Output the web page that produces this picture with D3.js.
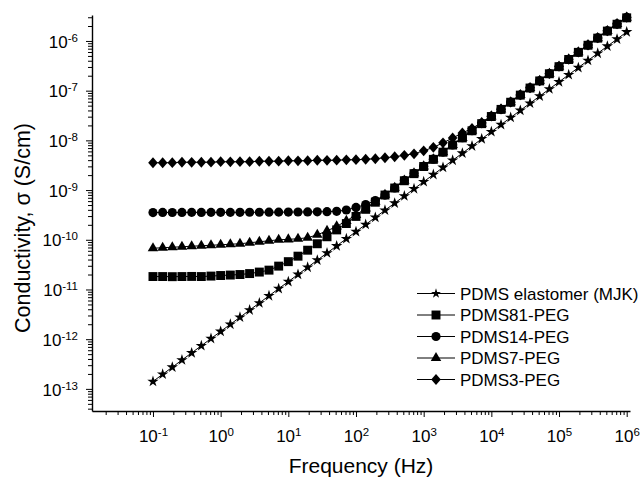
<!DOCTYPE html>
<html><head><meta charset="utf-8">
<script src="https://cdn.jsdelivr.net/npm/d3@7"></script>
<style>
body{margin:0;background:#fff}
svg{display:block}
text{font-family:"Liberation Sans",Arial,Helvetica,sans-serif;fill:#000}
</style>
</head><body>
<svg id="chart" width="644" height="478"></svg>
<script>
// ---- data ----
const freq = [0.1,0.139,0.193,0.268,0.373,0.518,0.72,
  1,1.39,1.93,2.68,3.73,5.18,7.2,
  10,13.9,19.3,26.8,37.3,51.8,72,
  100,139,193,268,373,518,720,
  1e3,1.39e3,1.93e3,2.68e3,3.73e3,5.18e3,7.2e3,
  1e4,1.39e4,1.93e4,2.68e4,3.73e4,5.18e4,7.2e4,
  1e5,1.39e5,1.93e5,2.68e5,3.73e5,5.18e5,7.2e5,
  1e6];
const elastomer = [1.41e-13,1.97e-13,2.73e-13,3.81e-13,5.30e-13,7.37e-13,1.03e-12,
  1.43e-12,1.99e-12,2.76e-12,3.85e-12,5.35e-12,7.45e-12,1.04e-11,
  1.44e-11,2.01e-11,2.79e-11,3.89e-11,5.41e-11,7.52e-11,1.05e-10,
  1.46e-10,2.03e-10,2.82e-10,3.93e-10,5.46e-10,7.60e-10,1.06e-9,
  1.47e-9,2.05e-9,2.85e-9,3.97e-9,5.52e-9,7.68e-9,1.07e-8,
  1.49e-8,2.07e-8,2.88e-8,4.01e-8,5.58e-8,7.76e-8,1.08e-7,
  1.50e-7,2.09e-7,2.91e-7,4.05e-7,5.64e-7,7.84e-7,1.09e-6,
  1.52e-6];
const pdms81 = [1.82e-11,1.82e-11,1.81e-11,1.82e-11,1.83e-11,1.82e-11,1.86e-11,
  1.91e-11,1.95e-11,2.00e-11,2.09e-11,2.24e-11,2.45e-11,2.95e-11,
  3.63e-11,4.68e-11,6.17e-11,8.32e-11,1.15e-10,1.58e-10,2.12e-10,
  2.95e-10,4.10e-10,5.70e-10,7.95e-10,1.10e-9,1.54e-9,2.14e-9,
  2.98e-9,4.15e-9,5.78e-9,8.05e-9,1.12e-8,1.56e-8,2.17e-8,
  3.02e-8,4.20e-8,5.85e-8,8.14e-8,1.13e-7,1.57e-7,2.19e-7,
  3.04e-7,4.24e-7,5.90e-7,8.20e-7,1.14e-6,1.58e-6,2.17e-6,
  2.92e-6];
const pdms14 = [3.52e-10,3.55e-10,3.54e-10,3.55e-10,3.56e-10,3.55e-10,3.56e-10,
  3.57e-10,3.56e-10,3.57e-10,3.58e-10,3.58e-10,3.59e-10,3.60e-10,
  3.61e-10,3.62e-10,3.63e-10,3.65e-10,3.68e-10,3.74e-10,3.98e-10,
  4.47e-10,5.13e-10,6.17e-10,7.94e-10,1.10e-9,1.57e-9,2.17e-9,
  3.01e-9,4.18e-9,5.82e-9,8.10e-9,1.13e-8,1.57e-8,2.18e-8,
  3.04e-8,4.22e-8,5.88e-8,8.18e-8,1.14e-7,1.58e-7,2.20e-7,
  3.06e-7,4.26e-7,5.94e-7,8.26e-7,1.15e-6,1.60e-6,2.20e-6,
  2.98e-6];
const pdms7 = [6.76e-11,6.92e-11,7.08e-11,7.24e-11,7.41e-11,7.59e-11,7.76e-11,
  7.94e-11,8.13e-11,8.32e-11,8.71e-11,9.12e-11,9.55e-11,1.00e-10,
  1.02e-10,1.05e-10,1.10e-10,1.26e-10,1.51e-10,1.86e-10,2.40e-10,
  3.16e-10,4.27e-10,5.80e-10,8.05e-10,1.11e-9,1.55e-9,2.16e-9,
  3.00e-9,4.17e-9,5.80e-9,8.08e-9,1.12e-8,1.56e-8,2.17e-8,
  3.03e-8,4.21e-8,5.86e-8,8.16e-8,1.13e-7,1.58e-7,2.19e-7,
  3.05e-7,4.25e-7,5.92e-7,8.23e-7,1.14e-6,1.59e-6,2.19e-6,
  2.95e-6];
const pdms3 = [3.55e-9,3.55e-9,3.56e-9,3.63e-9,3.62e-9,3.63e-9,3.64e-9,
  3.72e-9,3.71e-9,3.72e-9,3.73e-9,3.80e-9,3.80e-9,3.81e-9,
  3.89e-9,3.88e-9,3.90e-9,3.98e-9,3.97e-9,3.99e-9,4.07e-9,
  4.08e-9,4.17e-9,4.27e-9,4.47e-9,4.68e-9,5.01e-9,5.37e-9,
  6.17e-9,7.24e-9,8.91e-9,1.12e-8,1.41e-8,1.74e-8,2.29e-8,
  3.07e-8,4.24e-8,5.90e-8,8.20e-8,1.14e-7,1.58e-7,2.21e-7,
  3.07e-7,4.27e-7,5.95e-7,8.28e-7,1.15e-6,1.60e-6,2.21e-6,
  3.00e-6];
const seriesNames = ["PDMS elastomer (MJK)","PDMS81-PEG","PDMS14-PEG","PDMS7-PEG","PDMS3-PEG"];
const seriesMarkers = ["star","square","circle","triangle","diamond"];
const xTickExps = [-1,0,1,2,3,4,5,6];
const yTickExps = [-13,-12,-11,-10,-9,-8,-7,-6];
const xTitle = "Frequency (Hz)";
const yTitle = "Conductivity, \u03c3 (S/cm)";

// ---- chart ----
const series = [elastomer,pdms81,pdms14,pdms7,pdms3].map((vals,k)=>({
  name: seriesNames[k], marker: seriesMarkers[k],
  points: freq.map((f,i)=>({f, v: vals[i]}))
}));

const svg = d3.select("#chart");
const x = d3.scaleLog().domain([0.01256, 1.119e6]).range([92, 630]);
const y = d3.scaleLog().domain([3.59e-14, 3.33e-6]).range([411, 15]);

function minorTicks(scale, lo, hi){
  const out = [];
  const [d0,d1] = scale.domain();
  for(let e=lo;e<=hi;e++) for(let k=2;k<=9;k++){
    const v = k*Math.pow(10,e);
    if(v>=d0 && v<=d1) out.push(v);
  }
  return out;
}
const shapes = {
  star: d3.symbol(d3.symbolStar, 40)(),
  square: d3.symbol(d3.symbolSquare, 80)(),
  circle: d3.symbol(d3.symbolCircle, 66)(),
  triangle: d3.symbol(d3.symbolTriangle, 48)(),
  diamond: "M0,-5.4L4.8,0L0,5.4L-4.8,0Z"
};
const legendShapes = {
  star: d3.symbol(d3.symbolStar, 30)(),
  square: shapes.square, circle: shapes.circle, triangle: shapes.triangle, diamond: shapes.diamond
};

// x axis
const gx = svg.append("g").attr("transform","translate(0,411)");
gx.call(d3.axisBottom(x).tickValues(minorTicks(x,-2,6)).tickSize(4).tickSizeOuter(0).tickFormat(""));
gx.select(".domain").remove();
const gxM = svg.append("g").attr("transform","translate(0,411)");
gxM.call(d3.axisBottom(x).tickValues(xTickExps.map(e=>Math.pow(10,e))).tickSize(6).tickSizeOuter(0).tickPadding(13));
gxM.select(".domain").attr("stroke-width",1.4);
gxM.selectAll(".tick text").each(function(d,i){
  const t = d3.select(this).text("").attr("font-size",17).attr("dy","0.71em");
  t.append("tspan").text("10");
  t.append("tspan").attr("font-size",11.5).attr("dy",-6).text(xTickExps[i]);
});

// y axis
const gy = svg.append("g").attr("transform","translate(92,0)");
gy.call(d3.axisLeft(y).tickValues(minorTicks(y,-14,-6)).tickSize(4).tickSizeOuter(0).tickFormat(""));
gy.select(".domain").remove();
const gyM = svg.append("g").attr("transform","translate(92,0)");
gyM.call(d3.axisLeft(y).tickValues(yTickExps.map(e=>Math.pow(10,e))).tickSize(6).tickSizeOuter(0).tickPadding(8));
gyM.select(".domain").attr("stroke-width",1.4);
gyM.selectAll(".tick text").each(function(d,i){
  const t = d3.select(this).text("").attr("font-size",17).attr("dy","0.36em");
  t.append("tspan").text("10");
  t.append("tspan").attr("font-size",11.5).attr("dy",-6).text(yTickExps[i]);
});
svg.selectAll(".tick line").attr("stroke","#000");

// titles
svg.append("text").attr("x",361).attr("y",473).attr("text-anchor","middle")
  .attr("font-size",21).text(xTitle);
svg.append("text").attr("transform","translate(30,228) rotate(-90)").attr("text-anchor","middle")
  .attr("font-size",21.5).text(yTitle);

// series
const line = d3.line().x(d=>x(d.f)).y(d=>y(d.v));
const gs = svg.append("g");
series.forEach(s=>{
  gs.append("path").datum(s.points).attr("d",line).attr("fill","none").attr("stroke","#000").attr("stroke-width",1);
  gs.selectAll(null).data(s.points).enter().append("path")
    .attr("d",shapes[s.marker])
    .attr("transform",d=>`translate(${x(d.f)},${y(d.v)})`)
    .attr("fill","#000");
});

// legend
const legY = [293.5,315,336.5,358,379.5];
const lg = svg.append("g");
series.forEach((s,k)=>{
  const cy = legY[k];
  lg.append("line").attr("x1",417).attr("x2",455).attr("y1",cy).attr("y2",cy).attr("stroke","#000").attr("stroke-width",1);
  lg.append("path").attr("d",legendShapes[s.marker]).attr("transform",`translate(436,${cy})`).attr("fill","#000");
  lg.append("text").attr("x",460).attr("y",cy+6).attr("font-size",17).text(s.name);
});
</script>
</body></html>
